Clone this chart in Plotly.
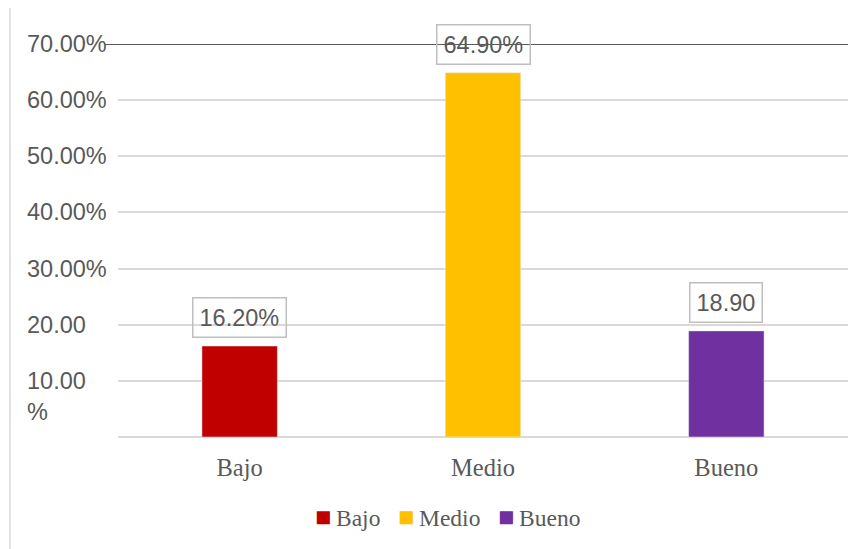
import plotly.graph_objects as go

# ── Data ──────────────────────────────────────────────────────────────────────
categories = ["Bajo", "Medio", "Bueno"]
values = [16.2, 64.9, 18.9]
value_labels = ["16.20%", "64.90%", "18.90"]
colors = ["#C00000", "#FFC000", "#7030A0"]

tick_vals = [10, 20, 30, 40, 50, 60, 70]
tick_text = ["10.00<br>%", "20.00", "30.00%", "40.00%", "50.00%", "60.00%", "70.00%"]

_TXT = "#595959"
_SANS = "Liberation Sans, Arial, sans-serif"
_SERIF = "Liberation Serif, Times New Roman, serif"

fig = go.Figure()
for cat, val, col in zip(categories, values, colors):
    fig.add_trace(go.Bar(
        name=cat, x=[cat], y=[val],
        marker=dict(color=col),
        width=0.31,
    ))

# data labels in bordered boxes
for cat, val, lab in zip(categories, values, value_labels):
    fig.add_annotation(
        x=cat, y=val, text=lab, showarrow=False,
        yanchor="bottom", yshift=8,
        font=dict(family=_SANS, size=23.5, color=_TXT),
        bordercolor="#BFBFBF", borderwidth=1.5, borderpad=6,
    )

# y tick labels, left aligned at the chart edge
for v, t in zip(tick_vals, tick_text):
    two = "<br>" in t
    fig.add_annotation(
        x=-0.128, xref="paper", y=v, yref="y", text=t,
        showarrow=False, xanchor="left", align="left",
        yanchor="top" if two else "middle",
        yshift=15 if two else 0,
        font=dict(family=_SANS, size=23.5, color=_TXT),
    )

# dark top line at the axis maximum
fig.add_shape(type="line", xref="paper", yref="y",
              x0=-0.018, x1=1, y0=max(tick_vals), y1=max(tick_vals),
              line=dict(color="#595959", width=2))
# chart frame left edge
fig.add_shape(type="line", xref="paper", yref="paper",
              x0=-0.148, x1=-0.148, y0=-0.3, y1=1.2,
              line=dict(color="#D9D9D9", width=1.5))

# legend drawn as a single centred line of coloured squares
legend_text = "&nbsp;&nbsp;&nbsp;".join(
    f"<span style='color:{c};font-size:27px'>■</span>\u2009{n}"
    for n, c in zip(categories, colors)
)
fig.add_annotation(
    x=0.451, xref="paper", y=-0.204, yref="paper", text=legend_text,
    showarrow=False, xanchor="center", yanchor="middle",
    font=dict(family=_SERIF, size=23.5, color=_TXT),
)

fig.update_layout(
    width=859, height=541,
    paper_bgcolor="white", plot_bgcolor="white",
    margin=dict(l=110, r=19, t=36, b=112),
    bargap=0.69,
    showlegend=False,
    xaxis=dict(
        tickfont=dict(family=_SERIF, size=24.5, color=_TXT),
        ticks="outside", ticklen=9, tickcolor="rgba(0,0,0,0)",
        showline=False, showgrid=False,
    ),
    yaxis=dict(
        range=[0, 70], tickvals=[0] + tick_vals[:-1],
        showticklabels=False, ticks="",
        gridcolor="#D9D9D9", gridwidth=1.5,
        zeroline=True, zerolinecolor="#D9D9D9", zerolinewidth=1.5,
        showline=False,
    ),
)

fig.write_html("out.html")
